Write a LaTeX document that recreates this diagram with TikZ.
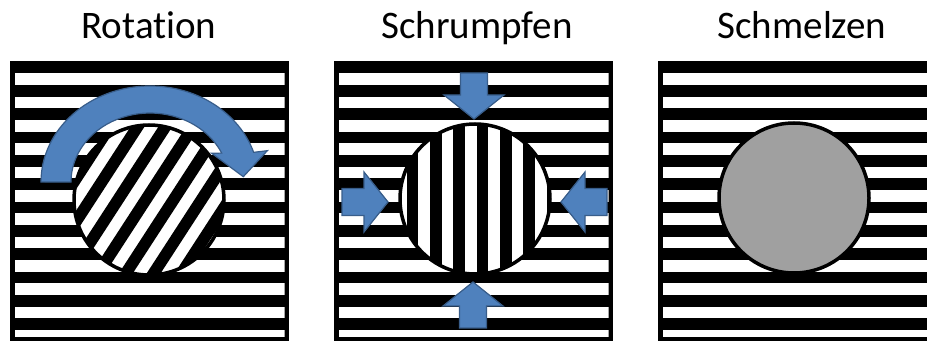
\documentclass[tikz,border=0pt]{standalone}
\usepackage{fontspec}
\setmainfont{Carlito}[Ligatures=NoCommon]
\definecolor{arrowblue}{HTML}{4F81BD}
\definecolor{arrowedge}{HTML}{385D8A}
\definecolor{meltgray}{HTML}{A0A0A0}
\begin{document}
\begin{tikzpicture}[x=1pt,y=1pt,
  title/.style={font=\fontsize{39}{47}\selectfont, anchor=base, inner sep=0pt},
  blue shape/.style={fill=arrowblue, draw=arrowedge, line width=1.2pt, line join=miter},
  rim/.style={draw=black, line width=3.5pt},
  blockarrow/.pic={\path[blue shape] (0,13.5) -- (22,13.5) -- (22,30) -- (46,0) -- (22,-30) -- (22,-13.5) -- (0,-13.5) -- cycle;}
]
\useasboundingbox (0,0) rectangle (927,342);

% titles
\node[title] (t1) at (149,303) {Rotation};
\node[title] (t2) at (477,303) {Schrumpfen};
\node[title] (t3) at (802,303) {Schmelzen};

% striped panels
\foreach \x in {10,334,658} {
  \fill[black] (\x,1) rectangle (\x+279,281);
  \begin{scope}
    \clip (\x+4.5,5.5) rectangle (\x+274.5,281);
    \foreach \k in {0,...,11}
      \fill[white] (\x+4.5,{257-23.333*\k}) rectangle (\x+274.5,{268.7-23.333*\k});
  \end{scope}
}

% panel 1: rotated circle
\begin{scope}
  \clip (149,142) circle (75);
  \fill[white] (149,142) circle (75);
  \begin{scope}[shift={(149,142)}, rotate=57]
    \foreach \k in {-4,...,4}
      \fill[black] (-90,{\k*23.333-3}) rectangle (90,{\k*23.333+8.67});
  \end{scope}
\end{scope}
\draw[rim] (149,142) circle (75);

% curved arrow
\path[blue shape] (41,160)
  arc[start angle=180, end angle=18, x radius=109, y radius=96]
  -- (267.3,191.3) -- (243.3,165.3) -- (211.7,188.7) -- (221.7,188.9)
  arc[start angle=24.8, end angle=180, x radius=79, y radius=69] -- cycle;

% panel 2: shrinking circle
\begin{scope}
  \clip (475,143) circle (75);
  \fill[white] (475,143) circle (75);
  \foreach \k in {-4,...,3}
    \fill[black] ({476.67+23.333*\k},60) rectangle ({488.33+23.333*\k},230);
\end{scope}
\draw[rim] (475,143) circle (75);

\pic (ta) [rotate=-90] at (474,269) {blockarrow};
\pic (ba) [rotate=90] at (473,14) {blockarrow};
\pic (la) at (342,140) {blockarrow};
\pic (ra) [rotate=180] at (607,140) {blockarrow};

% panel 3: melted circle
\filldraw[rim, fill=meltgray] (794,144) circle (75);
\end{tikzpicture}
\end{document}
